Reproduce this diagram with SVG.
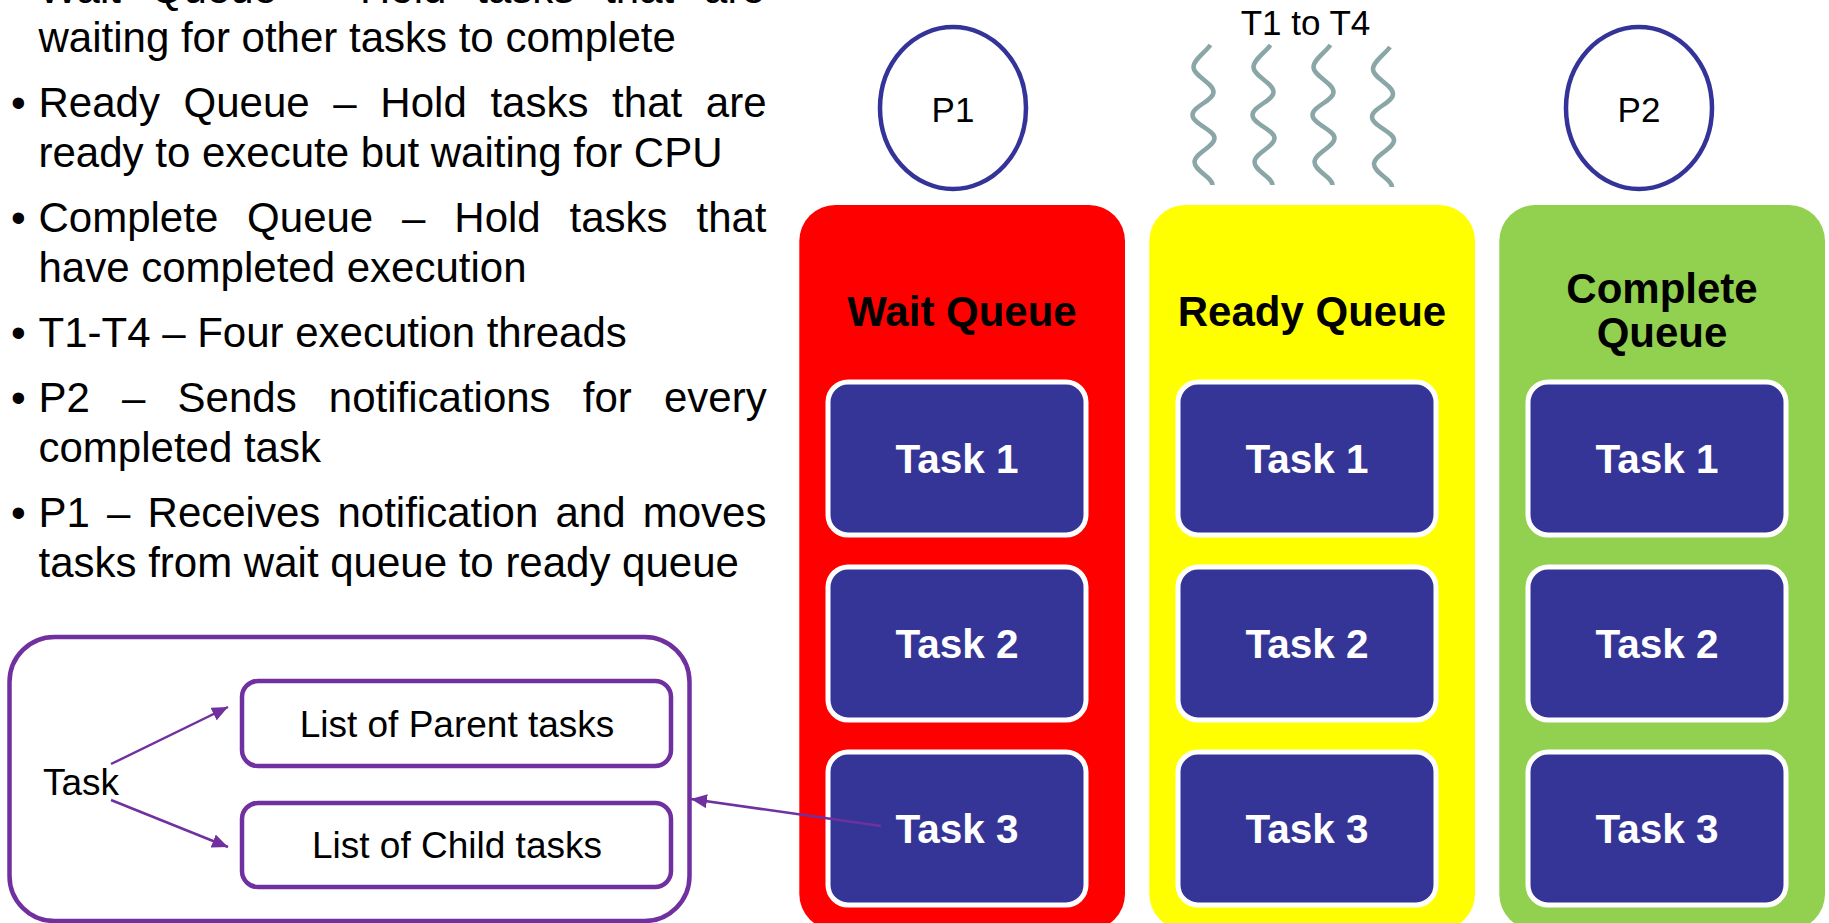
<svg xmlns="http://www.w3.org/2000/svg" width="1829" height="923" viewBox="0 0 1829 923">
  <defs>
    <style>
      .body { font-family: "Liberation Sans", Arial, sans-serif; font-size: 42px; fill: #000; }
      .lbl { font-family: "Liberation Sans", Arial, sans-serif; font-size: 35px; fill: #000; text-anchor: middle; }
      .head { font-family: "Liberation Sans", Arial, sans-serif; font-size: 42px; font-weight: bold; fill: #000; text-anchor: middle; }
      .task { fill: #353598; stroke: #fff; stroke-width: 5; }
      .tasktxt { font-family: "Liberation Sans", Arial, sans-serif; font-size: 40.5px; font-weight: bold; fill: #fff; text-anchor: middle; }
      .proc { fill: #fff; stroke: #333399; stroke-width: 4.5; }
      .thread { fill: none; stroke: #8AA6A6; stroke-width: 4.5; }
      .frame { fill: #fff; stroke: #7030A0; stroke-width: 4.5; }
      .conn { fill: none; stroke: #7030A0; stroke-width: 2.5; marker-end: url(#arrow); }
      .list { font-family: "Liberation Sans", Arial, sans-serif; font-size: 37px; fill: #000; text-anchor: middle; }
    </style>
    <marker id="arrow" viewBox="0 0 16 14" refX="16" refY="7" markerWidth="16" markerHeight="14" markerUnits="userSpaceOnUse" orient="auto">
      <path d="M0,0 L16,7 L0,14 Z" fill="#7030A0"/>
    </marker>
    <path id="wave" d="M7,45 C2,52 -10,60 -10,67 C-10,76 10,83 10,92 C10,101 -11,106 -11,115 C-11,124 11,130 11,138 C11,147 -9,153 -9,162 C-9,171 9,177 9,185"/>
  </defs>

  <rect width="1829" height="923" fill="#fff"/>

  <!-- Bullet list -->
  <g id="legend">
    <text class="body" x="11" y="2.5">•</text>
    <text class="body" x="38.5" y="2.5" word-spacing="18.2">Wait Queue – Hold tasks that are</text>
    <text class="body" x="38.5" y="51.7">waiting for other tasks to complete</text>

    <text class="body" x="11" y="117">•</text>
    <text class="body" x="38.5" y="117" word-spacing="12">Ready Queue – Hold tasks that are</text>
    <text class="body" x="38.5" y="166.7">ready to execute but waiting for CPU</text>

    <text class="body" x="11" y="232">•</text>
    <text class="body" x="38.5" y="232" word-spacing="17.2">Complete Queue – Hold tasks that</text>
    <text class="body" x="38.5" y="281.7">have completed execution</text>

    <text class="body" x="11" y="347">•</text>
    <text class="body" x="38.5" y="347">T1-T4 – Four execution threads</text>

    <text class="body" x="11" y="412.3">•</text>
    <text class="body" x="38.5" y="412.3" word-spacing="20.5">P2 – Sends notifications for every</text>
    <text class="body" x="38.5" y="462">completed task</text>

    <text class="body" x="11" y="527.3">•</text>
    <text class="body" x="38.5" y="527.3" word-spacing="5.5">P1 – Receives notification and moves</text>
    <text class="body" x="38.5" y="577">tasks from wait queue to ready queue</text>
  </g>

  <!-- Task structure detail -->
  <g id="task-structure">
    <rect class="frame" x="9.5" y="637" width="680" height="284" rx="45"/>
    <text class="list" x="81" y="795">Task</text>
  </g>
  <g id="parent-list">
    <rect class="frame" x="242" y="681" width="429" height="85" rx="16"/>
    <text class="list" x="457" y="737">List of Parent tasks</text>
  </g>
  <g id="child-list">
    <rect class="frame" x="242" y="803" width="429" height="84" rx="16"/>
    <text class="list" x="457" y="858">List of Child tasks</text>
  </g>

  <!-- Processes -->
  <g id="p1">
    <ellipse class="proc" cx="953" cy="108" rx="73" ry="81"/>
    <text class="lbl" x="953" y="122">P1</text>
  </g>
  <g id="p2">
    <ellipse class="proc" cx="1639" cy="108" rx="73" ry="81"/>
    <text class="lbl" x="1639" y="122">P2</text>
  </g>

  <!-- Threads -->
  <g id="threads">
    <text class="lbl" x="1305.5" y="35">T1 to T4</text>
    <use href="#wave" class="thread" x="1203.5" y="0"/>
    <use href="#wave" class="thread" x="1263.5" y="0"/>
    <use href="#wave" class="thread" x="1323.5" y="0"/>
    <use href="#wave" class="thread" x="1383" y="2"/>
  </g>

  <!-- Wait queue -->
  <g id="wait-queue">
    <rect x="799.3" y="205" width="325.7" height="725" rx="36" fill="#FF0000"/>
    <text class="head" x="962" y="325.7">Wait Queue</text>
    <rect class="task" x="828" y="382" width="258" height="153" rx="20"/>
    <text class="tasktxt" x="957" y="473">Task 1</text>
    <rect class="task" x="828" y="567" width="258" height="153" rx="20"/>
    <text class="tasktxt" x="957" y="658">Task 2</text>
    <rect class="task" x="828" y="752" width="258" height="153" rx="20"/>
    <text class="tasktxt" x="957" y="843">Task 3</text>
  </g>

  <!-- Ready queue -->
  <g id="ready-queue">
    <rect x="1149.3" y="205" width="325.7" height="725" rx="36" fill="#FFFF00"/>
    <text class="head" x="1312" y="325.7">Ready Queue</text>
    <rect class="task" x="1178" y="382" width="258" height="153" rx="20"/>
    <text class="tasktxt" x="1307" y="473">Task 1</text>
    <rect class="task" x="1178" y="567" width="258" height="153" rx="20"/>
    <text class="tasktxt" x="1307" y="658">Task 2</text>
    <rect class="task" x="1178" y="752" width="258" height="153" rx="20"/>
    <text class="tasktxt" x="1307" y="843">Task 3</text>
  </g>

  <!-- Complete queue -->
  <g id="complete-queue">
    <rect x="1499.3" y="205" width="325.7" height="725" rx="36" fill="#92D050"/>
    <text class="head" x="1662" y="303.3">Complete</text>
    <text class="head" x="1662" y="346.7">Queue</text>
    <rect class="task" x="1528" y="382" width="258" height="153" rx="20"/>
    <text class="tasktxt" x="1657" y="473">Task 1</text>
    <rect class="task" x="1528" y="567" width="258" height="153" rx="20"/>
    <text class="tasktxt" x="1657" y="658">Task 2</text>
    <rect class="task" x="1528" y="752" width="258" height="153" rx="20"/>
    <text class="tasktxt" x="1657" y="843">Task 3</text>
  </g>

  <!-- Connectors -->
  <g id="connectors">
    <line class="conn" x1="111" y1="764" x2="228" y2="707"/>
    <line class="conn" x1="111" y1="800" x2="228" y2="847"/>
    <line class="conn" x1="881" y1="826" x2="691" y2="799"/>
  </g>
</svg>
